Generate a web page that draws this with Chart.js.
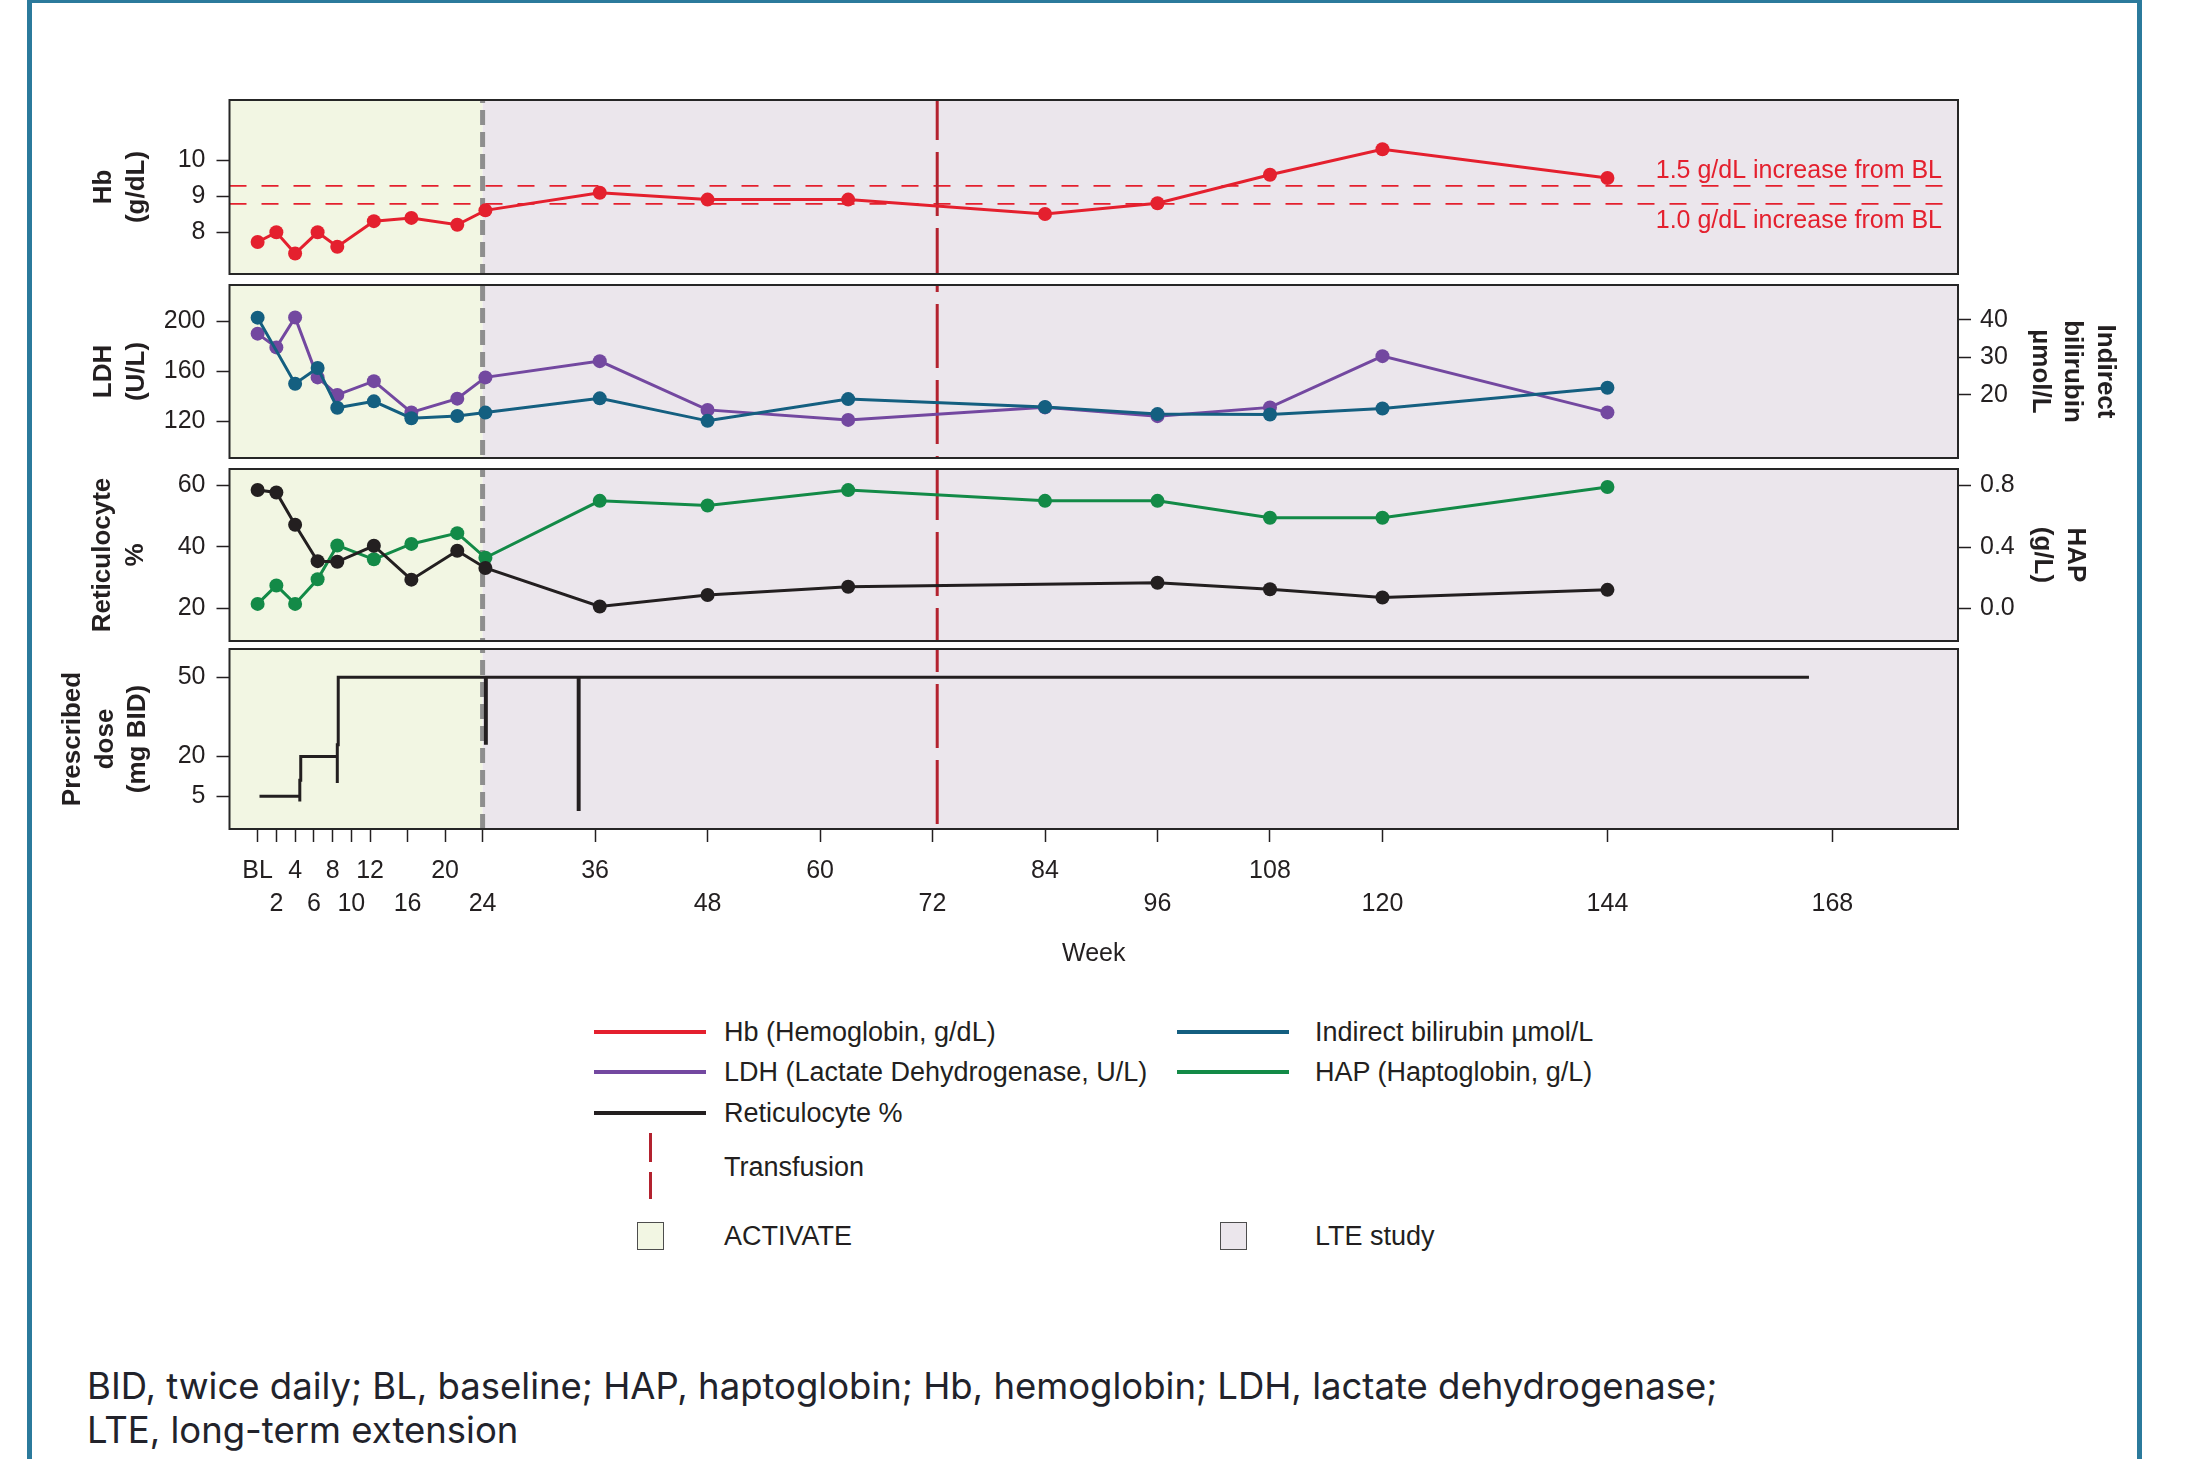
<!DOCTYPE html>
<html lang="en">
<head>
<meta charset="UTF-8">
<title>Hb, LDH, bilirubin, reticulocytes, HAP and dose by week</title>
<script src="https://cdn.jsdelivr.net/npm/chart.js@4.4.1/dist/chart.umd.min.js"></script>
<style>
  html, body { margin: 0; padding: 0; background: #fff; }
  body { position: relative; width: 2199px; height: 1459px; overflow: hidden;
         font-family: "Liberation Sans", Arial, sans-serif; color: #231f20; }
  .frame { position: absolute; left: 27px; top: -2px; width: 2105px; height: 1530px;
           border: 5px solid #2b7a9c; }
  canvas { position: absolute; left: 0; }
  .lg { position: absolute; font-size: 27px; line-height: 32px; white-space: nowrap; }
  .sw { position: absolute; }
  .note { position: absolute; left: 87px; top: 1364px; font-family: Inter, "Open Sans", sans-serif;
          font-size: 36.5px; line-height: 44px; color: #22232b; white-space: nowrap; }
</style>
</head>
<body>
  <div class="frame"></div>

  <!-- four stacked panels, one canvas each -->
  <canvas id="cHb"   width="2199" height="188" style="top:93px"></canvas>
  <canvas id="cLdh"  width="2199" height="187" style="top:278px"></canvas>
  <canvas id="cRet"  width="2199" height="186" style="top:462px"></canvas>
  <canvas id="cDose" width="2199" height="354" style="top:646px"></canvas>

  <!-- legend -->
  <span class="sw" style="left:594px;top:1030px;width:112px;height:4px;background:#e4202e"></span>
  <span class="lg" style="left:724px;top:1016px">Hb (Hemoglobin, g/dL)</span>
  <span class="sw" style="left:1177px;top:1030px;width:112px;height:4px;background:#145f80"></span>
  <span class="lg" style="left:1315px;top:1016px">Indirect bilirubin µmol/L</span>

  <span class="sw" style="left:594px;top:1070px;width:112px;height:4px;background:#7348a0"></span>
  <span class="lg" style="left:724px;top:1056px">LDH (Lactate Dehydrogenase, U/L)</span>
  <span class="sw" style="left:1177px;top:1070px;width:112px;height:4px;background:#138a47"></span>
  <span class="lg" style="left:1315px;top:1056px">HAP (Haptoglobin, g/L)</span>

  <span class="sw" style="left:594px;top:1111px;width:112px;height:4px;background:#231f20"></span>
  <span class="lg" style="left:724px;top:1097px">Reticulocyte %</span>

  <span class="sw" style="left:649px;top:1133px;width:3px;height:29px;background:#b3222f"></span>
  <span class="sw" style="left:649px;top:1172px;width:3px;height:27px;background:#b3222f"></span>
  <span class="lg" style="left:724px;top:1151px">Transfusion</span>

  <span class="sw" style="left:637px;top:1222px;width:25px;height:26px;background:#f2f6e3;border:1.5px solid #4d4d4d"></span>
  <span class="lg" style="left:724px;top:1220px">ACTIVATE</span>
  <span class="sw" style="left:1220px;top:1222px;width:25px;height:26px;background:#ebe6ec;border:1.5px solid #4d4d4d"></span>
  <span class="lg" style="left:1315px;top:1220px">LTE study</span>

  <div class="note">BID, twice daily; BL, baseline; HAP, haptoglobin; Hb, hemoglobin; LDH, lactate dehydrogenase;<br>LTE, long-term extension</div>

  <script>
    /* ---------- data ---------- */
    const weeks        = [0, 2, 4, 6.4, 8.5, 12.4, 16.4, 21.3, 24.3, 36.5, 48, 63, 84, 96, 108, 120, 144];
    const hb           = [7.73, 8.0, 7.41, 8.0, 7.6, 8.31, 8.4, 8.21, 8.61, 9.1, 8.91, 8.91, 8.51, 8.81, 9.6, 10.31, 9.51];
    const ldh          = [190, 179, 203, 155, 141, 152, 127, 138, 155, 168, 129, 121, 131, 124, 131, 172, 127];
    const bilirubin    = [40.6, null, 23.0, 27.2, 16.6, 18.3, 13.8, 14.4, 15.3, 19.1, 13.1, 18.9, 16.8, 14.9, 14.8, 16.4, 21.9];
    const reticulocyte = [58.4, 57.6, 47.1, 35.3, 35.1, 40.3, 29.3, 38.7, 33.1, 20.6, 24.3, 27.0, null, 28.3, 26.2, 23.5, 26.0];
    const hap          = [0.03, 0.15, 0.03, 0.19, 0.41, 0.32, 0.42, 0.49, 0.33, 0.70, 0.67, 0.77, 0.70, 0.70, 0.59, 0.59, 0.79];

    // prescribed dose, mg BID (step line incl. short interruptions)
    const doseWeeks = [0.2, 4.5, 4.5, 4.5, 4.6, 4.6, 8.5, 8.5, 8.5, 8.6, 8.6, 24.3, 24.3, 24.4, 24.4, 34.2, 34.2, 34.3, 34.3, 165.5];
    const doseMg    = [5,   5,   3,   11,  11,  20,  20,  10,  24.5, 24.5, 50, 50,  25,   25,   50,   50,   0,    0,    50,   50];

    const hbThresholds = [9.29, 8.79];          // +1.5 and +1.0 g/dL from BL
    const hbThresholdLabels = ['1.5 g/dL increase from BL', '1.0 g/dL increase from BL'];
    const activateEndWeek = 24;
    const transfusionWeek = 72.5;

    const weekTicks  = [0, 2, 4, 6, 8, 10, 12, 16, 20, 24, 36, 48, 60, 72, 84, 96, 108, 120, 144, 168];
    const weekLabels = ['BL', '2', '4', '6', '8', '10', '12', '16', '20', '24', '36', '48', '60', '72', '84', '96', '108', '120', '144', '168'];
    const weekRow    = [0, 1, 0, 1, 0, 1, 0, 1, 0, 1, 0, 1, 0, 1, 0, 1, 0, 1, 1, 1];

    const hbTicks   = [8, 9, 10];
    const ldhTicks  = [120, 160, 200];
    const biliTicks = [20, 30, 40];
    const retTicks  = [20, 40, 60];
    const hapTicks  = [0, 0.4, 0.8];
    const doseTicks = [5, 20, 50];

    /* ---------- styles ---------- */
    const FONT = '"Liberation Sans", Arial, sans-serif';
    const INK = '#231f20', RED = '#e4202e', PURPLE = '#7348a0', TEAL = '#145f80', GREEN = '#138a47';
    const LEFT_W = 229.5, RIGHT_W = 241;
    const X_MIN = -3, X_MAX = 181.4;

    const pts = (xs, ys) => xs.map((x, i) => ({ x, y: ys[i] })).filter(p => p.y !== null);

    const series = (label, xs, ys, color, axis) => ({
      label, data: pts(xs, ys), yAxisID: axis,
      borderColor: color, backgroundColor: color, borderWidth: 3,
      pointRadius: 7, pointBorderWidth: 0, pointBackgroundColor: color, spanGaps: true
    });

    const tickFont  = { family: FONT, size: 25 };
    const titleFont = { family: FONT, size: 26, weight: 'bold', lineHeight: 1.25 };

    function yAxis(side, min, max, ticks, title, titlePad, fmt) {
      return {
        position: side, min, max,
        afterFit: a => {
          a.width = side === 'left' ? LEFT_W : RIGHT_W;
          a.paddingTop = 0; a.paddingBottom = 0;     // panel fills its canvas
        },
        afterBuildTicks: a => { a.ticks = ticks.map(v => ({ value: v })); },
        ticks: { color: INK, font: tickFont, padding: side === 'left' ? 11 : 9,
                 callback: fmt || (v => String(v)) },
        grid: { drawOnChartArea: false, tickLength: 13, tickColor: INK, tickWidth: 1.5 },
        border: { display: false },
        title: { display: true, text: title, color: INK, font: titleFont,
                 padding: { top: titlePad, bottom: 0 } }
      };
    }

    function xAxis(show) {
      if (!show) return { type: 'linear', min: X_MIN, max: X_MAX, display: false };
      return {
        type: 'linear', min: X_MIN, max: X_MAX,
        afterFit: a => { a.height = 171; a.paddingLeft = 0; a.paddingRight = 0; },
        afterBuildTicks: a => { a.ticks = weekTicks.map(v => ({ value: v })); },
        ticks: { color: INK, font: { family: FONT, size: 25, lineHeight: 1.3 }, padding: 13,
                 autoSkip: false, maxRotation: 0,
                 callback: (v, i) => weekRow[i] ? ['', weekLabels[i]] : weekLabels[i] },
        grid: { drawOnChartArea: false, tickLength: 13, tickColor: INK, tickWidth: 1.5 },
        border: { display: false },
        title: { display: true, text: 'Week', color: INK, font: { family: FONT, size: 25, lineHeight: 1.3 },
                 padding: { top: 0, bottom: 30 } }
      };
    }

    /* ---------- panel backgrounds, reference lines, frame ---------- */
    const panelDecor = {
      id: 'panelDecor',
      beforeDatasetsDraw(chart) {
        const { ctx, chartArea: a, scales } = chart;
        const x = scales.x;
        const split = x.getPixelForValue(activateEndWeek);
        const pageTop = chart.canvas.offsetTop + a.top;
        ctx.save();
        ctx.fillStyle = '#f2f6e3';
        ctx.fillRect(a.left, a.top, split - a.left, a.height);
        ctx.fillStyle = '#ebe6ec';
        ctx.fillRect(split, a.top, a.right - split, a.height);

        const seg = (x0, y0, x1, y1) => { ctx.beginPath(); ctx.moveTo(x0, y0); ctx.lineTo(x1, y1); ctx.stroke(); };

        if (scales.hb) {
          ctx.strokeStyle = RED; ctx.lineWidth = 1.6; ctx.setLineDash([17, 15]);
          hbThresholds.forEach(v => {
            const y = scales.hb.getPixelForValue(v);
            seg(a.left, y, a.right, y);
          });
        }

        const tx = x.getPixelForValue(transfusionWeek);
        ctx.strokeStyle = '#b3222f'; ctx.lineWidth = 3;
        ctx.setLineDash([64, 12]); ctx.lineDashOffset = pageTop % 76;
        seg(tx, a.top, tx, a.bottom);

        ctx.strokeStyle = '#8e8e8e'; ctx.lineWidth = 5;
        ctx.setLineDash([15, 7]); ctx.lineDashOffset = pageTop % 22;
        seg(split, a.top, split, a.bottom);
        ctx.restore();
      },
      afterDatasetsDraw(chart) {
        const { ctx, chartArea: a, scales } = chart;
        if (!scales.hb) return;
        ctx.save();
        ctx.fillStyle = RED;
        ctx.font = '25px ' + FONT;
        ctx.textAlign = 'right';
        ctx.textBaseline = 'middle';
        ctx.fillText(hbThresholdLabels[0], a.right - 16, scales.hb.getPixelForValue(hbThresholds[0]) - 15);
        ctx.fillText(hbThresholdLabels[1], a.right - 16, scales.hb.getPixelForValue(hbThresholds[1]) + 17);
        ctx.restore();
      },
      afterDraw(chart) {
        const { ctx, chartArea: a } = chart;
        ctx.save();
        ctx.strokeStyle = '#262626'; ctx.lineWidth = 2;
        ctx.strokeRect(a.left, a.top, a.right - a.left, a.bottom - a.top);
        ctx.restore();
      }
    };

    const common = (padRight, padBottom) => ({
      responsive: false, animation: false, events: [],
      layout: { padding: { left: 0, right: padRight, top: 3, bottom: padBottom } },
      plugins: { legend: { display: false }, tooltip: { enabled: false } }
    });

    Chart.defaults.font.family = FONT;

    new Chart(document.getElementById('cHb'), {
      type: 'line',
      data: { datasets: [series('Hb', weeks, hb, RED, 'hb')] },
      options: {
        ...common(RIGHT_W, 3),
        scales: { x: xAxis(false), hb: yAxis('left', 6.84, 11.68, hbTicks, ['Hb', '(g/dL)'], 87.75) }
      },
      plugins: [panelDecor]
    });

    new Chart(document.getElementById('cLdh'), {
      type: 'line',
      data: { datasets: [
        series('Indirect bilirubin', weeks, bilirubin, TEAL, 'bili'),
        series('LDH', weeks, ldh, PURPLE, 'ldh')
      ] },
      options: {
        ...common(0, 3),
        scales: {
          x: xAxis(false),
          ldh: yAxis('left', 90.5, 228.9, ldhTicks, ['LDH', '(U/L)'], 87.75),
          bili: yAxis('right', 3.2, 49.3, biliTicks, ['Indirect', 'bilirubin', 'µmol/L'], 77.75)
        }
      },
      plugins: [panelDecor]
    });

    new Chart(document.getElementById('cRet'), {
      type: 'line',
      data: { datasets: [
        series('Reticulocyte %', weeks, reticulocyte, INK, 'ret'),
        series('HAP', weeks, hap, GREEN, 'hap')
      ] },
      options: {
        ...common(0, 3),
        scales: {
          x: xAxis(false),
          ret: yAxis('left', 9.4, 65.2, retTicks, ['Reticulocyte', '%'], 86.75),
          hap: yAxis('right', -0.211, 0.907, hapTicks, ['HAP', '(g/L)'], 107.75, v => v.toFixed(1))
        }
      },
      plugins: [panelDecor]
    });

    new Chart(document.getElementById('cDose'), {
      type: 'line',
      data: { datasets: [{
        label: 'Prescribed dose', data: pts(doseWeeks, doseMg), yAxisID: 'dose',
        borderColor: INK, borderWidth: 3, pointRadius: 0, tension: 0
      }] },
      options: {
        ...common(RIGHT_W, 0),
        scales: {
          x: xAxis(true),
          dose: yAxis('left', -7.4, 60.7, doseTicks, ['Prescribed', 'dose', '(mg BID)'], 56.75)
        }
      },
      plugins: [panelDecor]
    });
  </script>
</body>
</html>
